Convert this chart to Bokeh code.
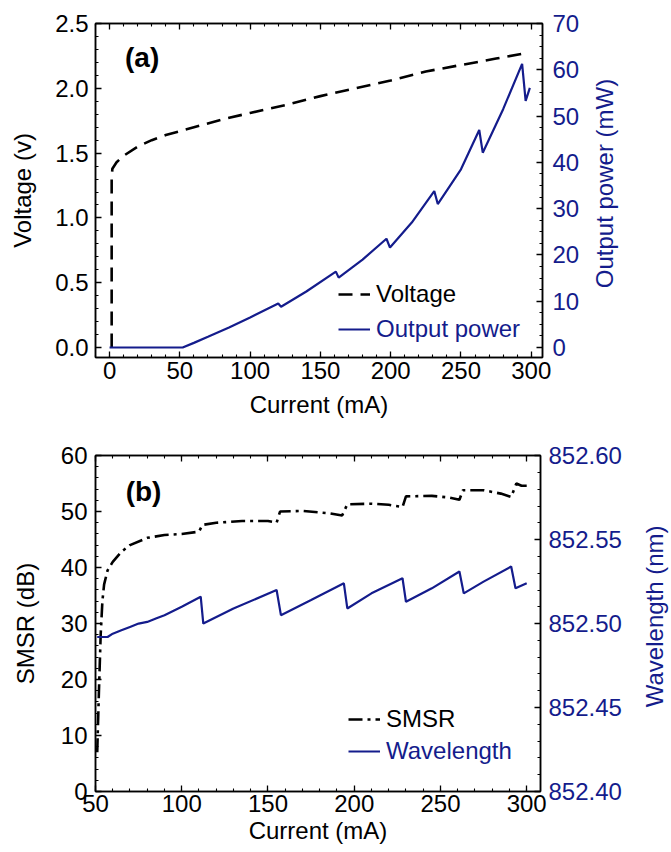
import math
from bokeh.plotting import figure
from bokeh.layouts import column, row
from bokeh.models import (Range1d, LinearAxis, SingleIntervalTicker, PrintfTickFormatter,
                          CustomJSTickFormatter, Legend, LegendItem, Label)
from bokeh.embed import file_html
from bokeh.resources import INLINE

# ---------------- data: panel (a) ----------------
volt_current = [1.5, 1.5, 2, 5, 10, 20, 30, 40, 50, 60, 80, 100, 125, 150, 175, 200, 225, 250, 275, 295]
voltage = [0.0, 1.30, 1.38, 1.43, 1.48, 1.55, 1.60, 1.64, 1.67, 1.70, 1.76, 1.81, 1.87, 1.94, 2.00,
           2.06, 2.13, 2.18, 2.23, 2.27]

power_current = [0, 52, 60, 70, 85, 100, 120, 122, 140, 161, 163, 180, 197, 199.5, 215, 231, 233.5,
                 250, 263, 265.5, 280, 293.5, 296, 299]
power = [0.0, 0.0, 1.0, 2.3, 4.3, 6.5, 9.5, 8.8, 12.1, 16.4, 15.1, 19.0, 23.5, 21.6, 27.0, 33.8, 31.0,
         38.5, 47.0, 42.1, 51.5, 61.3, 53.3, 56.1]

# ---------------- data: panel (b) ----------------
smsr_current = [51, 52, 53, 54, 55, 57, 60, 65, 70, 80, 90, 100, 110, 112, 120, 135, 150, 155, 157,
                170, 185, 193, 196, 210, 220, 228, 230, 245, 255, 261, 263, 275, 285, 291, 294, 297, 300]
smsr = [7, 18, 28, 34, 37, 39.5, 41, 42.8, 44, 45.3, 45.8, 46.0, 46.4, 47.6, 48.0, 48.3, 48.3, 48.0,
        50.0, 50.1, 49.7, 49.3, 51.3, 51.4, 51.2, 50.8, 52.7, 52.8, 52.5, 52.1, 53.8, 53.8, 53.2, 52.6,
        55.0, 54.6, 54.6]

wl_current = [51, 54, 57, 60, 65, 70, 75, 80, 85, 90, 100, 111, 112.5, 130, 155, 157.5, 175, 194, 196,
              210, 228, 230, 245, 261, 263.5, 275, 291, 293.5, 300]
wavelength = [852.492, 852.492, 852.492, 852.494, 852.496, 852.498, 852.500, 852.501, 852.503, 852.505,
              852.510, 852.516, 852.500, 852.509, 852.520, 852.505, 852.514, 852.524, 852.509, 852.518,
              852.527, 852.513, 852.521, 852.531, 852.518, 852.525, 852.534, 852.521, 852.524]

BLUE = "#141c8c"
FONT = "Liberation Sans"
TICK_FS = "24px"
LAB_FS = "24px"


def style_axis(ax, color="black"):
    ax.axis_line_color = "black"
    ax.axis_line_width = 1.5
    ax.major_tick_line_color = "black"
    ax.minor_tick_line_color = "black"
    ax.major_tick_line_width = 1.3
    ax.minor_tick_line_width = 1.1
    ax.major_tick_in = 6
    ax.major_tick_out = 0
    ax.minor_tick_in = 3
    ax.minor_tick_out = 0
    ax.major_label_text_font = FONT
    ax.major_label_text_font_size = TICK_FS
    ax.major_label_text_color = color
    ax.axis_label_text_font = FONT
    ax.axis_label_text_font_size = LAB_FS
    ax.axis_label_text_font_style = "normal"
    ax.axis_label_text_color = color


def base_fig(width, height, xr, yr, mb_right, mb_top, mb_bottom):
    p = figure(width=width, height=height, x_range=xr, y_range=yr, output_backend="svg",
               toolbar_location=None, min_border_left=95, min_border_right=mb_right,
               min_border_top=mb_top, min_border_bottom=mb_bottom)
    p.xgrid.visible = False
    p.ygrid.visible = False
    p.outline_line_color = "black"
    p.outline_line_width = 1.5
    p.background_fill_color = "white"
    p.border_fill_color = "white"
    return p


def label_fig(width, height, text, cx, cy):
    """A thin, axis-less strip that carries a right-hand axis title reading bottom-to-top."""
    f = figure(width=width, height=height, x_range=Range1d(0, width), y_range=Range1d(0, height),
               x_axis_type=None, y_axis_type=None, output_backend="svg", toolbar_location=None,
               min_border=0)
    f.xgrid.visible = False
    f.ygrid.visible = False
    f.outline_line_color = None
    f.background_fill_color = "white"
    f.border_fill_color = "white"
    f.add_layout(Label(x=cx, y=cy, text=text, angle=math.pi / 2, text_align="center",
                       text_baseline="middle", text_font=FONT, text_font_size=LAB_FS,
                       text_color=BLUE))
    return f


def legend_item(p, label, renderer, color, loc):
    leg = Legend(items=[LegendItem(label=label, renderers=[renderer])], location=loc,
                 glyph_width=32, glyph_height=26, label_height=26, label_standoff=6,
                 padding=0, spacing=0, margin=0, border_line_alpha=0, background_fill_alpha=0,
                 label_text_font=FONT, label_text_font_size=LAB_FS, label_text_color=color)
    p.add_layout(leg)


def top_axis(p):
    ax = LinearAxis(ticker=SingleIntervalTicker(interval=50, num_minor_ticks=5),
                    formatter=CustomJSTickFormatter(code="return ''"))
    style_axis(ax)
    ax.major_label_standoff = 0
    p.add_layout(ax, "above")


# ================= panel (a) =================
p1 = base_fig(590, 430, Range1d(-10, 308), Range1d(-0.077, 2.5005), 48, 23, 73)
p1.extra_y_ranges = {"pow": Range1d(-2.16, 70.01)}

p1.xaxis.ticker = SingleIntervalTicker(interval=50, num_minor_ticks=5)
p1.xaxis.formatter = PrintfTickFormatter(format="%d")
p1.xaxis.axis_label = "Current (mA)"
p1.yaxis.ticker = SingleIntervalTicker(interval=0.5, num_minor_ticks=5)
p1.yaxis.formatter = PrintfTickFormatter(format="%.1f")
p1.yaxis.axis_label = "Voltage (v)"
style_axis(p1.xaxis[0])
style_axis(p1.yaxis[0])
p1.xaxis.major_label_standoff = 4
p1.xaxis.axis_label_standoff = 9
p1.yaxis.major_label_standoff = 7
p1.yaxis.axis_label_standoff = 16

ax_r1 = LinearAxis(y_range_name="pow", ticker=SingleIntervalTicker(interval=10, num_minor_ticks=4),
                   formatter=PrintfTickFormatter(format="%d"))
style_axis(ax_r1, BLUE)
ax_r1.major_label_standoff = 10
p1.add_layout(ax_r1, "right")
top_axis(p1)

rv = p1.line(volt_current, voltage, line_color="black", line_width=2.6, line_dash="14 8")
rp = p1.line(power_current, power, y_range_name="pow", line_color=BLUE, line_width=2.2)

legend_item(p1, "Voltage", rv, "black", (243, 49))
legend_item(p1, "Output power", rp, BLUE, (243, 14))

p1.add_layout(Label(x=11, y=2.24, text="(a)", text_font=FONT, text_font_size="28px",
                    text_font_style="bold", text_baseline="middle", text_color="black"))

f1 = label_fig(81, 430, "Output power (mW)", 14, 224)

# ================= panel (b) =================
p2 = base_fig(640, 422, Range1d(50, 308), Range1d(0, 60.005), 100, 25, 61)
p2.extra_y_ranges = {"wl": Range1d(852.40, 852.6001)}

p2.xaxis.ticker = SingleIntervalTicker(interval=50, num_minor_ticks=5)
p2.xaxis.formatter = PrintfTickFormatter(format="%d")
p2.xaxis.axis_label = "Current (mA)"
p2.yaxis.ticker = SingleIntervalTicker(interval=10, num_minor_ticks=5)
p2.yaxis.formatter = PrintfTickFormatter(format="%d")
p2.yaxis.axis_label = "SMSR (dB)"
style_axis(p2.xaxis[0])
style_axis(p2.yaxis[0])
p2.xaxis.major_label_standoff = 3
p2.xaxis.axis_label_standoff = 2
p2.yaxis.major_label_standoff = 8
p2.yaxis.axis_label_standoff = 19

ax_r2 = LinearAxis(y_range_name="wl", ticker=SingleIntervalTicker(interval=0.05, num_minor_ticks=5),
                   formatter=PrintfTickFormatter(format="%.2f"))
style_axis(ax_r2, BLUE)
ax_r2.major_label_standoff = 8
p2.add_layout(ax_r2, "right")
top_axis(p2)

rs = p2.line(smsr_current, smsr, line_color="black", line_width=2.6, line_dash="14 5 3 5")
rw = p2.line(wl_current, wavelength, y_range_name="wl", line_color=BLUE, line_width=2.2)

legend_item(p2, "SMSR", rs, "black", (253, 58))
legend_item(p2, "Wavelength", rw, BLUE, (253, 26))

p2.add_layout(Label(x=67.5, y=53.6, text="(b)", text_font=FONT, text_font_size="28px",
                    text_font_style="bold", text_baseline="middle", text_color="black"))

f2 = label_fig(31, 422, "Wavelength (nm)", 14, 220)

layout = column(row(p1, f1, spacing=0), row(p2, f2, spacing=0), spacing=0)
open("out.html", "w").write(file_html(layout, INLINE))
